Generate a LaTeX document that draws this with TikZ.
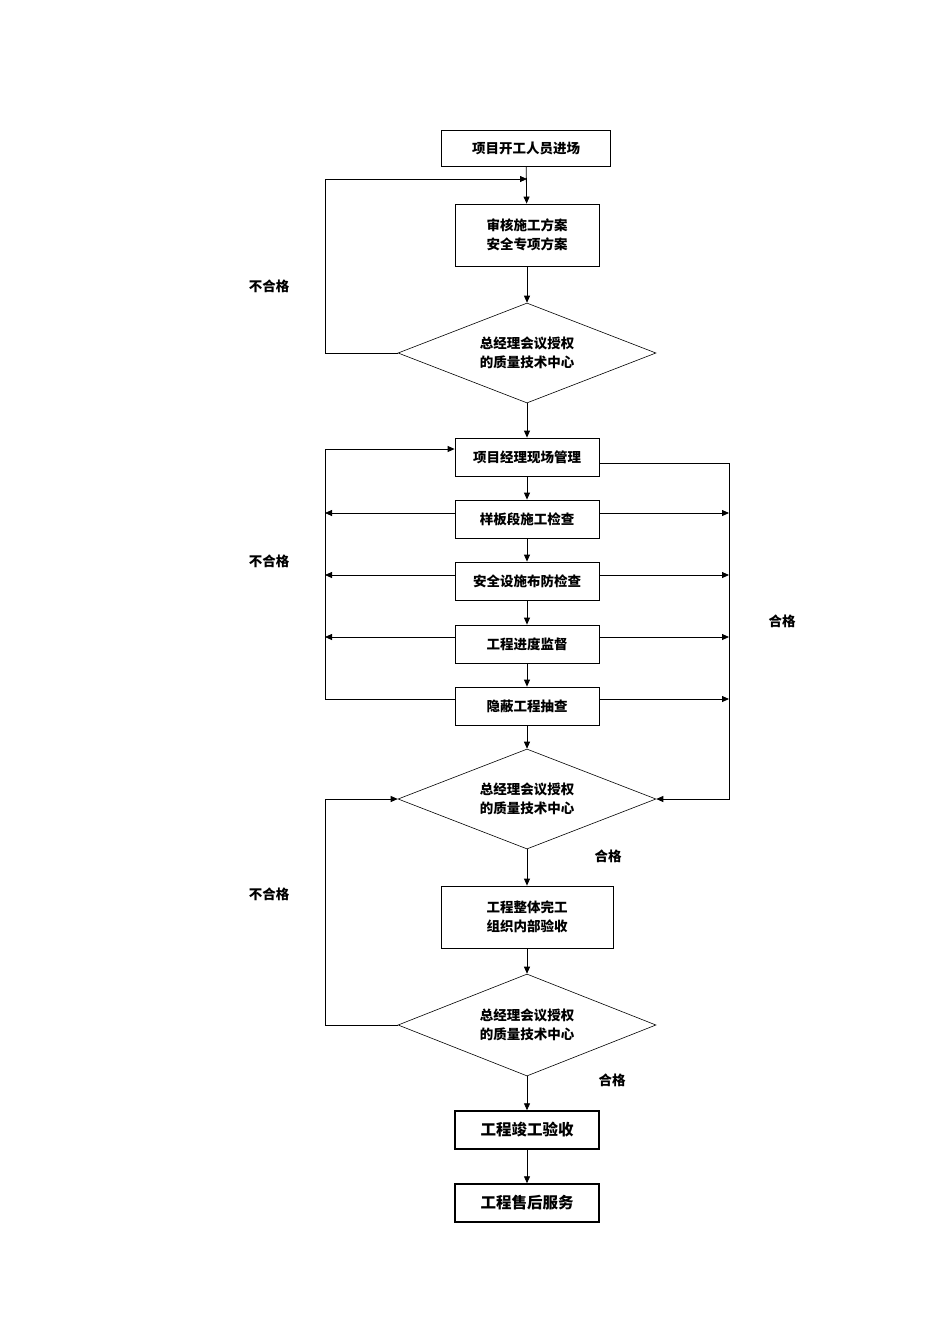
\documentclass[tikz,border=0pt]{standalone}
\usepackage{fontspec}
\newfontfamily\cjk{Noto Sans CJK SC}
\usetikzlibrary{shapes.geometric,arrows.meta}
\begin{document}
\begin{tikzpicture}[x=1pt,y=-1pt,
  every node/.style={font=\cjk\bfseries\fontsize{13.5}{19}\selectfont},
  box/.style={draw,line width=0.8pt,minimum width=144pt,minimum height=38pt,align=center,inner sep=0pt},
  dia/.style={draw,line width=0.6pt,diamond,aspect=2.58,minimum width=258pt,minimum height=100pt,align=center,inner sep=0pt},
  arr/.style={-{Triangle[length=7pt,width=6pt]},line width=0.8pt},
  ln/.style={line width=0.8pt}]
\useasboundingbox (0,0) rectangle (950,1344);
\node[box,minimum width=169pt,minimum height=36pt] (a) at (526,148) {项目开工人员进场};
\node[box,minimum height=62pt] (b) at (527,235) {审核施工方案\\安全专项方案};
\node[dia] (d1) at (527,353) {总经理会议授权\\的质量技术中心};
\node[box] (c1) at (527,457) {项目经理现场管理};
\node[box] (c2) at (527,519) {样板段施工检查};
\node[box] (c3) at (527,581) {安全设施布防检查};
\node[box] (c4) at (527,644) {工程进度监督};
\node[box] (c5) at (527,706) {隐蔽工程抽查};
\node[dia] (d2) at (527,799) {总经理会议授权\\的质量技术中心};
\node[box,minimum width=172pt,minimum height=62pt] (e) at (527,917) {工程整体完工\\组织内部验收};
\node[dia,minimum height=102pt] (d3) at (527,1025) {总经理会议授权\\的质量技术中心};
\node[box,line width=1.4pt,font=\cjk\bfseries\fontsize{15.5}{17}\selectfont] (f) at (527,1130) {工程竣工验收};
\node[box,line width=1.4pt,font=\cjk\bfseries\fontsize{15.5}{17}\selectfont] (g) at (527,1203) {工程售后服务};
\node (n1) at (269,286) {不合格};
\node (n2) at (269,561) {不合格};
\node (n3) at (269,894) {不合格};
\node (p1) at (782,621) {合格};
\node (p2) at (608,856) {合格};
\node (p3) at (612,1080) {合格};
\coordinate (L1) at (325,179);
\coordinate (L2) at (325,449);
\coordinate (L3) at (325,799);
\coordinate (R1) at (729,463);
\draw[arr] (a) -- (b);
\draw[arr] (b) -- (d1);
\draw[arr] (d1) -- (c1);
\draw[arr] (c1) -- (c2);
\draw[arr] (c2) -- (c3);
\draw[arr] (c3) -- (c4);
\draw[arr] (c4) -- (c5);
\draw[arr] (c5) -- (d2);
\draw[arr] (d2) -- (e);
\draw[arr] (e) -- (d3);
\draw[arr] (d3) -- (f);
\draw[arr] (f) -- (g);
\draw[arr] (d1.west) -- (325,353) -- (L1) -- (527,179);
\draw[arr] (325,699) -- (L2) -- (c1.west |- L2);
\draw[ln] (c5.west |- 0,699) -- (325,699);
\foreach \n/\y in {c2/513,c3/575,c4/637}{
  \draw[arr] (\n.west |- 0,\y) -- (325,\y);
  \draw[arr] (\n.east |- 0,\y) -- (729,\y);
}
\draw[arr] (c5.east |- 0,699) -- (729,699);
\draw[arr] (c1.east |- R1) -- (R1) -- (729,799) -- (d2.east);
\draw[arr] (d3.west) -- (325,1025) -- (L3) -- (d2.west);
\end{tikzpicture}
\end{document}
